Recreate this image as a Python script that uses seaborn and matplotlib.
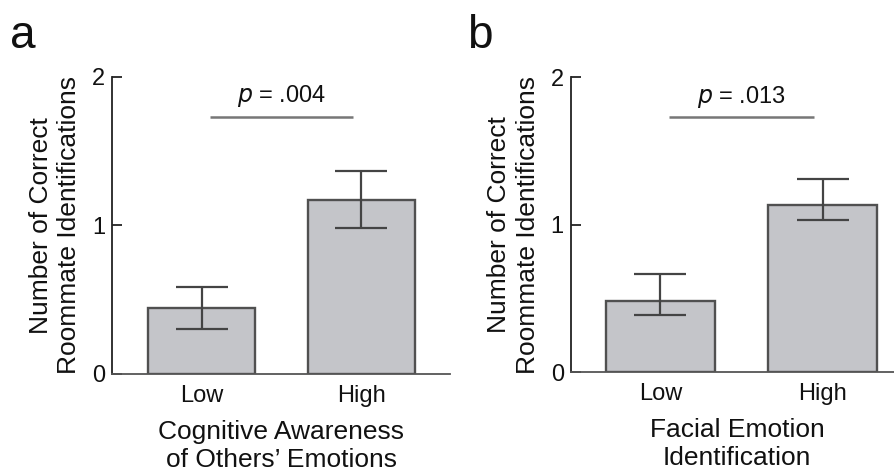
import matplotlib
matplotlib.use("Agg")
import matplotlib.pyplot as plt
import seaborn as sns
import pandas as pd

categories = ["Low", "High"]
means_a = [0.444, 1.172]
err_low_a = [0.300, 0.983]
err_high_a = [0.586, 1.367]
means_b = [0.485, 1.131]
err_low_b = [0.386, 1.029]
err_high_b = [0.667, 1.313]
p_a = "= .004"
p_b = "= .013"
sig_y = 1.73
xlabel_a = "Cognitive Awareness\nof Others\u2019 Emotions"
xlabel_b = "Facial Emotion\nIdentification"
ylabel = "Number of Correct\nRoommate Identifications"
panel_labels = ["a", "b"]
yticks = [0, 1, 2]

sns.set_theme(style="ticks")
plt.rcParams["font.family"] = ["Liberation Sans", "DejaVu Sans"]

fig = plt.figure(figsize=(8.95, 4.71), dpi=100)
ax_a = fig.add_axes([0.1251, 0.206, 0.378, 0.631])
ax_b = fig.add_axes([0.6377, 0.210, 0.372, 0.626])

bar_color = "#c4c5c9"
edge_color = "#505050"
err_color = "#444444"

def draw(ax, means, lo, hi, ptxt, xlabel, xlim):
    df = pd.DataFrame({"cat": categories, "val": means})
    sns.barplot(data=df, x="cat", y="val", ax=ax, color=bar_color,
                edgecolor=edge_color, linewidth=1.7, width=0.67,
                saturation=1, errorbar=None)
    xs = list(range(len(categories)))
    yerr = [[m - l for m, l in zip(means, lo)], [h - m for m, h in zip(means, hi)]]
    ax.errorbar(xs, means, yerr=yerr, fmt="none", ecolor=err_color,
                elinewidth=1.6, capsize=19, capthick=1.6, zorder=5)
    ax.plot([0.05, 0.95], [sig_y, sig_y], color="#777777", lw=1.8,
            solid_capstyle="butt")
    ax.text(0.5, sig_y + 0.05, r"$\it{p}$ " + ptxt, ha="center", va="bottom",
            fontsize=17, color="#111111")
    ax.set_ylim(0, 2)
    ax.set_xlim(*xlim)
    ax.set_yticks(yticks)
    ax.set_yticklabels([str(t) for t in yticks])
    ax.tick_params(axis="y", direction="in", length=7, width=1.2, labelsize=17,
                   pad=5, colors="#111111")
    ax.tick_params(axis="x", length=0, labelsize=17, pad=8, colors="#111111")
    ax.set_xlabel(xlabel, fontsize=19, labelpad=9, color="#111111",
                  linespacing=1.22)
    ax.set_ylabel(ylabel, fontsize=19, labelpad=8, color="#111111",
                  linespacing=1.22)
    sns.despine(ax=ax, top=True, right=True)
    for s in ["left", "bottom"]:
        ax.spines[s].set_linewidth(1.3)
        ax.spines[s].set_color("#222222")
    ax.spines["bottom"].set_color("#555555")

draw(ax_a, means_a, err_low_a, err_high_a, p_a, xlabel_a, (-0.561, 1.558))
draw(ax_b, means_b, err_low_b, err_high_b, p_b, xlabel_b, (-0.553, 1.50))

fig.text(10 / 895, 1 - 48 / 471, panel_labels[0], fontsize=33, color="#111111")
fig.text(467 / 895, 1 - 48 / 471, panel_labels[1], fontsize=33, color="#111111")

fig.savefig("out.png", dpi=100)
